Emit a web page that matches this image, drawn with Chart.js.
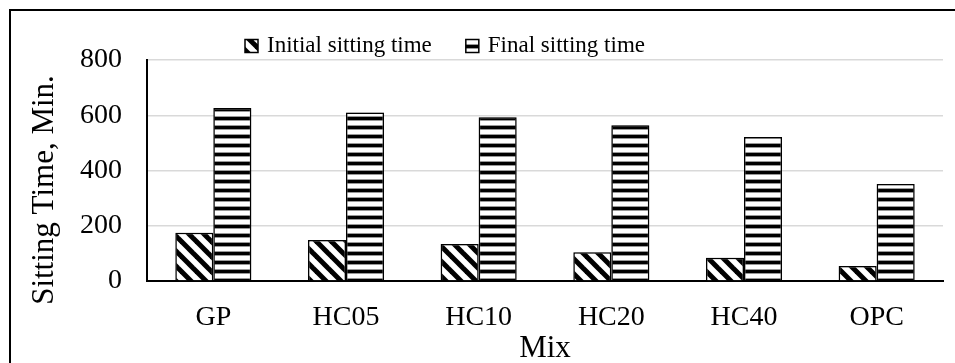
<!DOCTYPE html>
<html>
<head>
<meta charset="utf-8">
<script src="https://cdn.jsdelivr.net/npm/chart.js@4"></script>
<style>
  html, body { margin: 0; padding: 0; background: #fff; }
  #wrap { width: 955px; height: 363px; }
</style>
</head>
<body>
<div id="wrap"><canvas id="myChart"></canvas></div>
<script>
const mixes = ["GP", "HC05", "HC10", "HC20", "HC40", "OPC"];
const initialTime = [175, 148, 134, 104, 84, 54];
const finalTime = [626, 610, 593, 564, 521, 351];
const yTicks = [0, 200, 400, 600, 800];

const serif = "'Liberation Serif', 'Times New Roman', serif";

// diagonal "\" stripes
function diagPattern() {
  const s = 15;
  const c = document.createElement("canvas");
  c.width = s; c.height = s;
  const g = c.getContext("2d");
  g.fillStyle = "#fff";
  g.fillRect(0, 0, s, s);
  g.strokeStyle = "#000";
  g.lineWidth = 5;
  for (const k of [-s, 0, s]) {
    g.beginPath();
    g.moveTo(k - s, -s);
    g.lineTo(k + 2 * s, 2 * s);
    g.stroke();
  }
  return g.createPattern(c, "repeat");
}

// horizontal stripes
function horizPattern() {
  const c = document.createElement("canvas");
  c.width = 8; c.height = 9;
  const g = c.getContext("2d");
  g.fillStyle = "#fff";
  g.fillRect(0, 0, 8, 9);
  g.fillStyle = "#000";
  g.fillRect(0, 0, 8, 3);
  g.fillStyle = "#999";
  g.fillRect(0, 3, 8, 1);
  g.fillRect(0, 8, 8, 1);
  return g.createPattern(c, "repeat");
}

const framePlugin = {
  id: "frameAndLegend",
  beforeDatasetsDraw(chart) {
    const ctx = chart.ctx;
    ctx.save();
    ctx.shadowColor = "rgba(0,0,0,0.35)";
    ctx.shadowBlur = 4;
  },
  afterDatasetsDraw(chart) {
    chart.ctx.restore();
  },
  afterDraw(chart) {
    const ctx = chart.ctx;
    ctx.save();
    // outer frame (top and left only visible)
    ctx.strokeStyle = "#000";
    ctx.lineWidth = 2;
    ctx.beginPath();
    ctx.moveTo(10, 363);
    ctx.lineTo(10, 10);
    ctx.lineTo(955, 10);
    ctx.stroke();

    // y axis title
    ctx.fillStyle = "#000";
    ctx.font = "31px " + serif;
    ctx.textAlign = "center";
    ctx.textBaseline = "middle";
    ctx.translate(45, 190);
    ctx.rotate(-Math.PI / 2);
    ctx.fillText("Sitting Time, Min.", 0, 0);
    ctx.restore();

    // legend
    ctx.save();
    ctx.font = "23px " + serif;
    ctx.textBaseline = "middle";
    ctx.textAlign = "left";
    let x = 245;
    const y = 46;
    chart.data.datasets.forEach((ds) => {
      ctx.fillStyle = ds.backgroundColor;
      ctx.fillRect(x, y - 6.5, 13, 13);
      ctx.strokeStyle = "#000";
      ctx.lineWidth = 1.5;
      ctx.strokeRect(x, y - 6.5, 13, 13);
      ctx.fillStyle = "#000";
      ctx.fillText(ds.label, x + 22, y);
      x += 22 + ctx.measureText(ds.label).width + 34;
    });
    ctx.restore();
  },
};

const myChart = document.querySelector("#myChart");
const chart = new Chart(myChart, {
  type: "bar",
  data: {
    labels: mixes,
    datasets: [
      {
        label: "Initial sitting time",
        data: initialTime,
        backgroundColor: diagPattern(),
        borderColor: "#000",
        borderWidth: 1.5,
      },
      {
        label: "Final sitting time",
        data: finalTime,
        backgroundColor: horizPattern(),
        borderColor: "#000",
        borderWidth: 1.5,
      },
    ],
  },
  options: {
    responsive: true,
    maintainAspectRatio: false,
    animation: false,
    devicePixelRatio: 1,
    layout: { padding: { top: 60, right: 12, bottom: 0, left: 0 } },
    datasets: {
      bar: { categoryPercentage: 0.573, barPercentage: 1 },
    },
    plugins: {
      legend: { display: false },
      tooltip: { enabled: false },
    },
    scales: {
      x: {
        grid: { display: false, drawTicks: false },
        border: { color: "#000", width: 2 },
        ticks: { color: "#000", font: { family: serif, size: 28 }, padding: 20 },
        title: {
          display: true,
          text: "Mix",
          color: "#000",
          font: { family: serif, size: 31 },
          padding: { top: 0, bottom: -4 },
        },
        afterFit(scale) {
          scale.height = 82;
        },
      },
      y: {
        min: 0,
        max: 800,
        afterBuildTicks(scale) {
          scale.ticks = yTicks.map((v) => ({ value: v }));
        },
        grid: { color: "#d9d9d9", lineWidth: 1.5, drawTicks: false },
        border: { color: "#000", width: 2 },
        ticks: { color: "#000", font: { family: serif, size: 28 }, padding: 25 },
        afterFit(scale) {
          scale.width = 147;
        },
      },
    },
  },
  plugins: [framePlugin],
});
</script>
</body>
</html>
